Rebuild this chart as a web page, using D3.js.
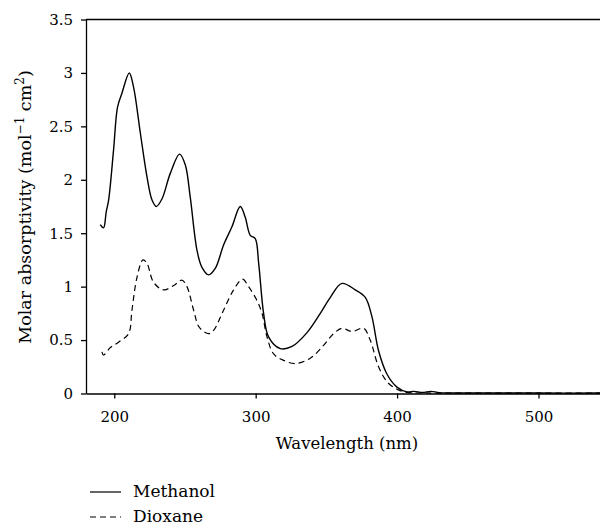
<!DOCTYPE html>
<html>
<head>
<meta charset="utf-8">
<script src="https://cdn.jsdelivr.net/npm/d3@7"></script>
<style>
  body { margin: 0; background: #fff; }
  svg text { font-family: "DejaVu Serif", "Liberation Serif", serif; }
</style>
</head>
<body>
<div id="chart"></div>
<script>
// wavelength (nm) and molar absorptivity
const methanolNm = [190.1, 192.4, 194.3, 196.0, 199.5, 202.3, 205.4, 210.6, 213.6, 218.4, 223.1, 226.7, 229.7, 233.7, 239.6, 246.2, 250.2, 253.7, 258.5, 262.0, 266.7, 271.4, 277.3, 283.2, 289.1, 292.6, 296.2, 299.7, 302.1, 305.6, 309.1, 317.4, 325.7, 336.3, 345.7, 352.8, 361.0, 370.4, 377.5, 382.2, 386.9, 392.9, 399.9, 407.0, 412, 418, 424, 430, 450, 500, 550];
const methanolVal = [1.58, 1.55, 1.70, 1.81, 2.28, 2.68, 2.81, 3.00, 2.87, 2.44, 2.03, 1.81, 1.75, 1.82, 2.06, 2.24, 2.14, 1.84, 1.34, 1.18, 1.11, 1.17, 1.39, 1.56, 1.75, 1.65, 1.48, 1.45, 1.22, 0.75, 0.53, 0.42, 0.44, 0.57, 0.75, 0.90, 1.03, 0.97, 0.90, 0.72, 0.40, 0.18, 0.06, 0.015, 0.02, 0.01, 0.02, 0.008, 0.005, 0.004, 0.004];

const dioxaneNm = [191.3, 192.4, 197.2, 203.0, 210.1, 212.5, 216.1, 220.3, 223.1, 227.8, 234.9, 242.0, 247.9, 251.4, 256.1, 260.1, 266.7, 270.2, 277.3, 284.4, 290.7, 295.0, 300.9, 304.5, 308.0, 312.7, 319.8, 328.0, 338.6, 348.0, 355.1, 361.0, 368.1, 376.3, 381.0, 386.9, 392.9, 399.9, 407.0, 420, 450, 500, 550];
const dioxaneVal = [0.39, 0.36, 0.43, 0.48, 0.56, 0.78, 1.09, 1.25, 1.22, 1.04, 0.97, 1.01, 1.06, 1.00, 0.78, 0.62, 0.56, 0.59, 0.78, 0.97, 1.07, 1.00, 0.87, 0.75, 0.53, 0.37, 0.31, 0.28, 0.33, 0.45, 0.56, 0.61, 0.58, 0.61, 0.50, 0.25, 0.11, 0.04, 0.01, 0.005, 0.003, 0.003, 0.003];

const xTicks = [200, 300, 400, 500];
const yTicks = [0, 0.5, 1, 1.5, 2, 2.5, 3, 3.5];

const seriesNames = ['Methanol', 'Dioxane'];

const width = 600;
const height = 526;
const margins = { top: 19.5, left: 86, bottom: 393.5 };

const svg = d3.select('#chart')
    .append('svg')
    .attr('width', width)
    .attr('height', height);

const xScale = d3.scaleLinear()
    .domain([180, 560])
    .range([margins.left, margins.left + 380 * 1.414]);

const yScale = d3.scaleLinear()
    .domain([0, 3.5])
    .range([margins.bottom, margins.top]);

// top frame line
svg.append('line')
    .attr('x1', margins.left)
    .attr('x2', width)
    .attr('y1', margins.top)
    .attr('y2', margins.top)
    .attr('stroke', '#000')
    .attr('stroke-width', 1.3);

const yAxis = d3.axisLeft(yScale)
    .tickValues(yTicks)
    .tickFormat(d => d)
    .tickSize(5)
    .tickSizeOuter(0)
    .tickPadding(8);

svg.append('g')
    .classed('y-axis', true)
    .attr('transform', `translate(${margins.left}, 0)`)
    .call(yAxis);

const xAxis = d3.axisBottom(xScale)
    .tickValues(xTicks)
    .tickSize(5)
    .tickSizeOuter(0)
    .tickPadding(13);

svg.append('g')
    .classed('x-axis', true)
    .attr('transform', `translate(0, ${margins.bottom})`)
    .call(xAxis);

svg.selectAll('.x-axis .domain, .y-axis .domain, .tick line')
    .attr('stroke-width', 1.3);
svg.selectAll('.tick text')
    .style('font-size', '15px')
    .attr('fill', '#000');

const line = d3.line()
    .x(d => xScale(d[0]))
    .y(d => yScale(d[1]))
    .curve(d3.curveCatmullRom.alpha(0.5));

svg.append('path')
    .datum(d3.zip(methanolNm, methanolVal))
    .attr('fill', 'none')
    .attr('stroke', '#000')
    .attr('stroke-width', 1.4)
    .attr('d', line);

svg.append('path')
    .datum(d3.zip(dioxaneNm, dioxaneVal))
    .attr('fill', 'none')
    .attr('stroke', '#000')
    .attr('stroke-width', 1.2)
    .attr('stroke-dasharray', '6,4')
    .attr('d', line);

// axis titles
svg.append('text')
    .attr('x', 347)
    .attr('y', 449)
    .attr('text-anchor', 'middle')
    .style('font-size', '16.5px')
    .text('Wavelength (nm)');

const yTitle = svg.append('text')
    .attr('transform', 'translate(31, 207) rotate(-90)')
    .attr('text-anchor', 'middle')
    .style('font-size', '17.5px');
yTitle.append('tspan').text('Molar absorptivity (mol');
yTitle.append('tspan').attr('dy', -7).style('font-size', '12px').text('\u22121');
yTitle.append('tspan').attr('dy', 7).text(' cm');
yTitle.append('tspan').attr('dy', -7).style('font-size', '12px').text('2');
yTitle.append('tspan').attr('dy', 7).text(')');

// legend
const legend = svg.append('g').classed('legend', true);
seriesNames.forEach((name, i) => {
    const y = 492 + i * 25;
    legend.append('line')
        .attr('x1', 90)
        .attr('x2', 121)
        .attr('y1', y)
        .attr('y2', y)
        .attr('stroke', '#000')
        .attr('stroke-width', 1.2)
        .attr('stroke-dasharray', i === 1 ? '6,4' : null);
    legend.append('text')
        .attr('x', 133)
        .attr('y', y + 5)
        .style('font-size', '17px')
        .text(name);
});
</script>
</body>
</html>
